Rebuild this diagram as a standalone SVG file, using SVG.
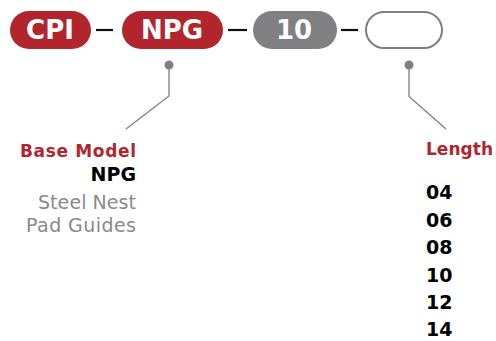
<svg xmlns="http://www.w3.org/2000/svg" width="496" height="341" viewBox="0 0 496 341">
<style>
.pill{fill:#b1262d}
.pillg{fill:#808082}
.pillo{fill:#fff;stroke:#808082;stroke-width:2}
.pt{font-family:"DejaVu Sans",sans-serif;font-weight:bold;font-size:26px;fill:#fff;text-anchor:middle}
.dash{stroke:#111;stroke-width:2.2}
.lead{fill:none;stroke:#808082;stroke-width:1.3}
.dot{fill:#808082}
.t{font-family:"DejaVu Sans",sans-serif;font-weight:bold;font-size:17px}
.red{fill:#b1262d}
.blk{fill:#000}
.num{font-size:19px}
.gry{fill:#8a8a8c;font-weight:normal;font-size:19px}
</style>
<g id="node-cpi"><rect class="pill" x="10" y="11" width="81" height="38" rx="19"/><text class="pt" x="50" y="39">CPI</text></g>
<g id="node-npg"><rect class="pill" x="122" y="11" width="101" height="38" rx="19"/><text class="pt" x="172" y="39">NPG</text></g>
<g id="node-10"><rect class="pillg" x="253" y="11" width="84" height="38" rx="19"/><text class="pt" x="294" y="39">10</text></g>
<g id="node-blank"><rect class="pillo" x="366" y="12" width="76" height="36" rx="18"/></g>
<g id="connectors">
<line class="dash" x1="96" y1="30" x2="113" y2="30"/>
<line class="dash" x1="228" y1="30" x2="247" y2="30"/>
<line class="dash" x1="341" y1="30" x2="358" y2="30"/>
<circle class="dot" cx="169" cy="65" r="4.5"/>
<polyline class="lead" points="169,65 169,96 126,129"/>
<circle class="dot" cx="409" cy="65" r="4.5"/>
<polyline class="lead" points="409,65 409,96.5 446,129"/>
</g>
<g id="base-model">
<text class="t red" x="20" y="156.5" textLength="116">Base Model</text>
<text class="t blk num" x="136" y="181" text-anchor="end">NPG</text>
<text class="t gry" x="38" y="209" textLength="98">Steel Nest</text>
<text class="t gry" x="26" y="232" textLength="110">Pad Guides</text>
</g>
<g id="length">
<text class="t red" x="426" y="154.5" textLength="67">Length</text>
<text class="t blk num" x="426" y="199">04</text>
<text class="t blk num" x="426" y="226.5">06</text>
<text class="t blk num" x="426" y="254">08</text>
<text class="t blk num" x="426" y="281.5">10</text>
<text class="t blk num" x="426" y="309">12</text>
<text class="t blk num" x="426" y="336">14</text>
</g>
</svg>
